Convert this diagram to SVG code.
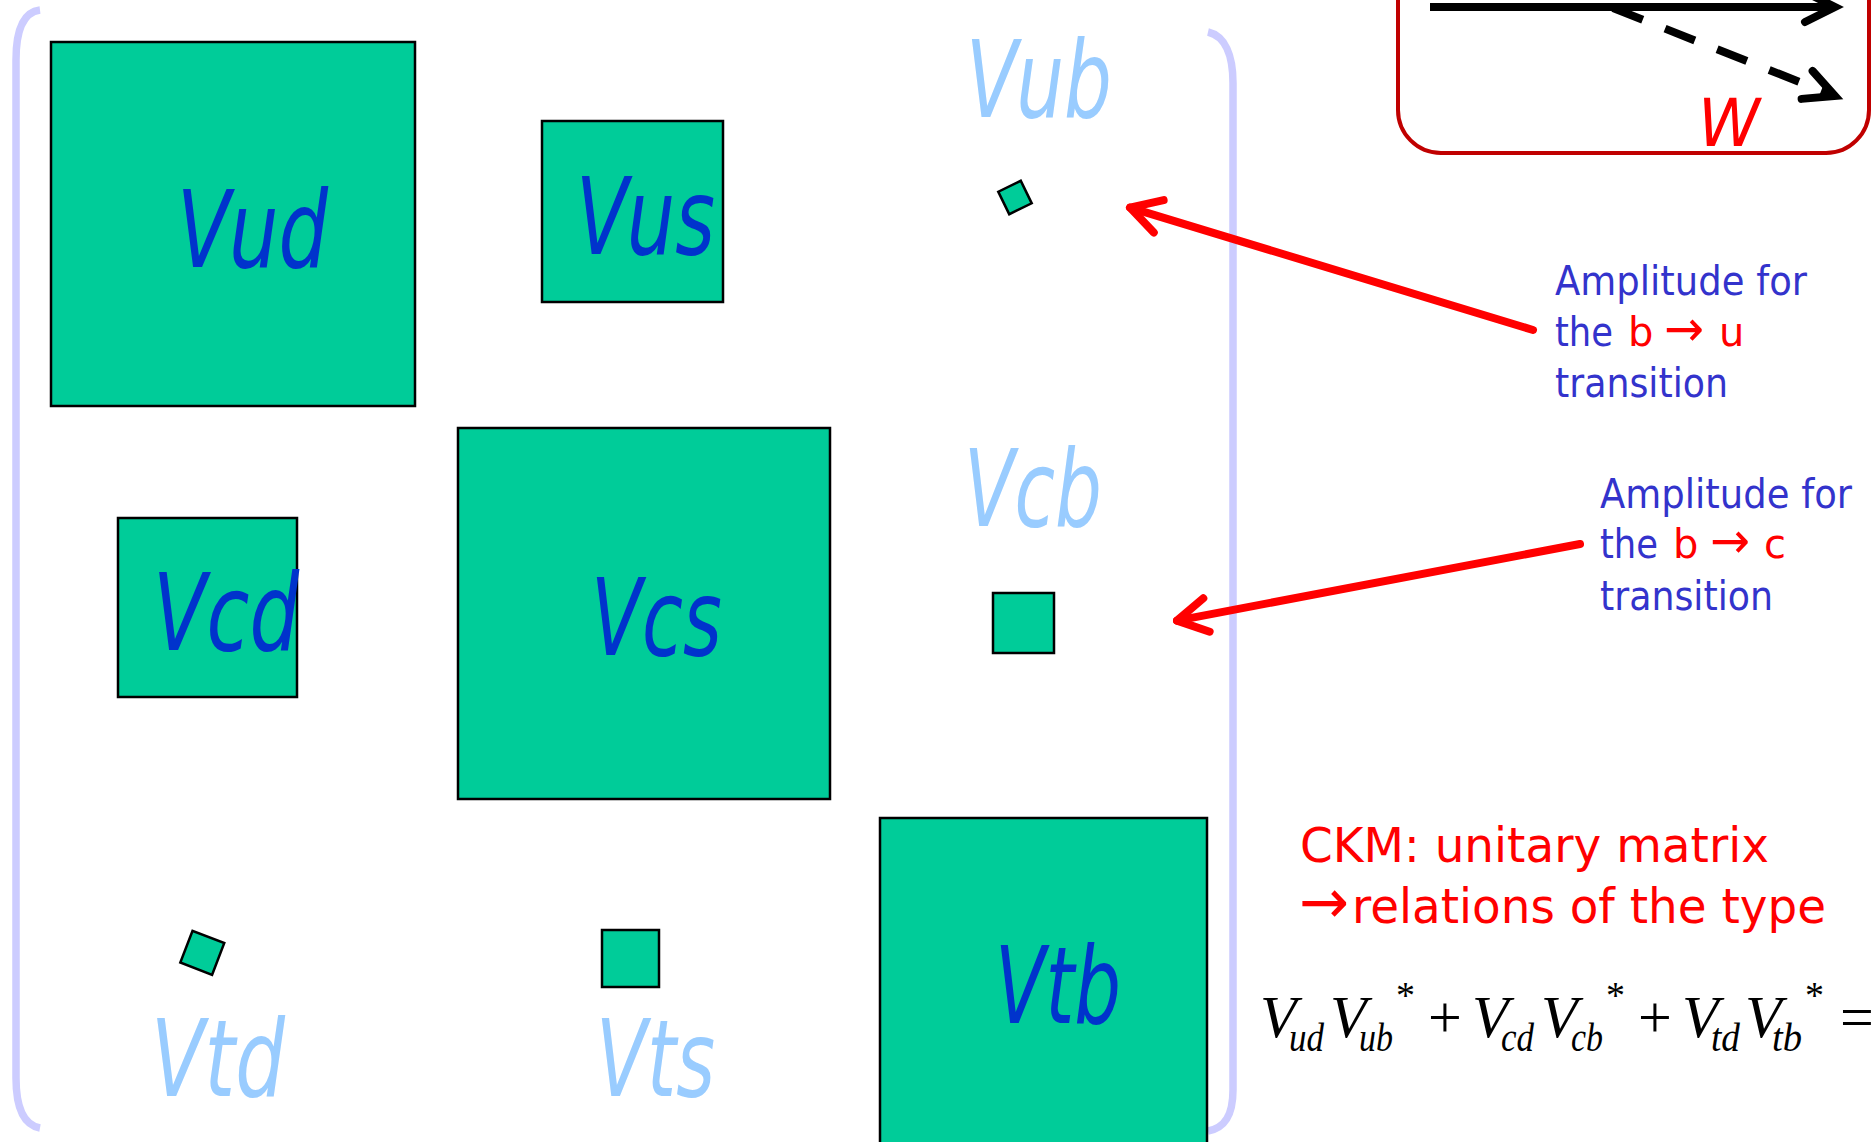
<svg xmlns="http://www.w3.org/2000/svg" width="1875" height="1142" viewBox="0 0 1875 1142">
<style>
.bg{fill:#ffffff}
.br{fill:none;stroke:#CCCCFF;stroke-width:7.5;stroke-linecap:butt}
.cell{fill:#00CC99;stroke:#000000;stroke-width:2.5}
.lab{font-family:"DejaVu Sans","Liberation Sans",sans-serif;font-style:italic;font-size:107px}
.dk{fill:#0033CC}
.lt{fill:#99CCFF}
.ann{font-family:"DejaVu Sans","Liberation Sans",sans-serif;font-size:40px;fill:#3333CC}
.red{fill:#FF0000}
.arr{font-size:50px}
.ckm{font-family:"DejaVu Sans","Liberation Sans",sans-serif;font-size:48px;fill:#FF0000}
.ra{fill:none;stroke:#FF0000;stroke-width:8;stroke-linecap:round;stroke-linejoin:round}
.ba{fill:none;stroke:#000000;stroke-width:8;stroke-linejoin:round}
.eq{font-family:"Liberation Serif","Times New Roman",serif;fill:#000;font-size:60px}
.it{font-style:italic}
.sub{font-style:italic;font-size:40px}
.st{font-size:38px}
</style>
<defs>
<marker id="redHead" markerUnits="userSpaceOnUse" viewBox="-45 -30 55 60" refX="0" refY="0" markerWidth="55" markerHeight="60" orient="auto">
<path d="M -30 -17 L 0 0 L -30 17" fill="none" stroke="#FF0000" stroke-width="8" stroke-linecap="round" stroke-linejoin="round"/>
</marker>
<marker id="blackHead" markerUnits="userSpaceOnUse" viewBox="-45 -30 55 60" refX="0" refY="0" markerWidth="55" markerHeight="60" orient="auto">
<path d="M -30 -15 L 0 0 L -30 15" fill="none" stroke="#000000" stroke-width="8" stroke-linecap="round" stroke-linejoin="miter"/>
</marker>
</defs>
<rect class="bg" x="0" y="0" width="1875" height="1142"/>

<g id="matrix-brackets">
<path class="br" d="M 40 10 C 24 12 16 30 16 60 L 16 1078 C 16 1108 24 1125 40 1128"/>
<path class="br" d="M 1208 32 C 1225 36 1233 55 1233 83 L 1233 1090 C 1233 1115 1225 1128 1208 1131"/>
</g>

<g id="Vud">
<rect class="cell" x="51" y="42" width="364" height="364"/>
<text class="lab dk" x="177" y="267" textLength="151" lengthAdjust="spacingAndGlyphs">Vud</text>
</g>
<g id="Vus">
<rect class="cell" x="542" y="121" width="181" height="181"/>
<text class="lab dk" x="576" y="254" textLength="139" lengthAdjust="spacingAndGlyphs">Vus</text>
</g>
<g id="Vub">
<rect class="cell" x="1002.5" y="185" width="25" height="25" transform="rotate(-26 1015 197.5)"/>
<text class="lab lt" x="966" y="117" textLength="146" lengthAdjust="spacingAndGlyphs">Vub</text>
</g>
<g id="Vcd">
<rect class="cell" x="118" y="518" width="179" height="179"/>
<text class="lab dk" x="153" y="650" textLength="146" lengthAdjust="spacingAndGlyphs">Vcd</text>
</g>
<g id="Vcs">
<rect class="cell" x="458" y="428" width="372" height="371"/>
<text class="lab dk" x="591" y="655" textLength="131" lengthAdjust="spacingAndGlyphs">Vcs</text>
</g>
<g id="Vcb">
<rect class="cell" x="993" y="593" width="61" height="60"/>
<text class="lab lt" x="964" y="526" textLength="138" lengthAdjust="spacingAndGlyphs">Vcb</text>
</g>
<g id="Vtd">
<rect class="cell" x="185.3" y="935.8" width="34" height="34" transform="rotate(21 202.3 952.8)"/>
<text class="lab lt" x="151" y="1096" textLength="134" lengthAdjust="spacingAndGlyphs">Vtd</text>
</g>
<g id="Vts">
<rect class="cell" x="602" y="930" width="57" height="57"/>
<text class="lab lt" x="596" y="1096" textLength="119" lengthAdjust="spacingAndGlyphs">Vts</text>
</g>
<g id="Vtb">
<rect class="cell" x="880" y="818" width="327" height="340"/>
<text class="lab dk" x="995" y="1023" textLength="126" lengthAdjust="spacingAndGlyphs">Vtb</text>
</g>

<g id="W-box">
<rect x="1398" y="-120" width="471" height="273" rx="43" ry="43" fill="none" stroke="#C00000" stroke-width="4"/>
<line class="ba" x1="1430" y1="7" x2="1835" y2="7" marker-end="url(#blackHead)"/>
<line class="ba" x1="1613" y1="8" x2="1835" y2="96" stroke-dasharray="32 24" marker-end="url(#blackHead)"/>
<text x="1698" y="146" font-family="DejaVu Sans, Liberation Sans, sans-serif" font-style="italic" font-size="66" fill="#FF0000" textLength="62" lengthAdjust="spacingAndGlyphs">W</text>
</g>

<g id="note-bu">
<text class="ann" x="1555" y="295" textLength="252" lengthAdjust="spacingAndGlyphs">Amplitude for</text>
<text class="ann" x="1555" y="346"><tspan textLength="58" lengthAdjust="spacingAndGlyphs">the</tspan><tspan class="red" x="1628">b</tspan><tspan class="red arr" x="1664" textLength="40" lengthAdjust="spacingAndGlyphs">→</tspan><tspan class="red" x="1719">u</tspan></text>
<text class="ann" x="1555" y="397" textLength="173" lengthAdjust="spacingAndGlyphs">transition</text>
</g>
<g id="note-bc">
<text class="ann" x="1600" y="508" textLength="252" lengthAdjust="spacingAndGlyphs">Amplitude for</text>
<text class="ann" x="1600" y="558"><tspan textLength="58" lengthAdjust="spacingAndGlyphs">the</tspan><tspan class="red" x="1673">b</tspan><tspan class="red arr" x="1710" textLength="40" lengthAdjust="spacingAndGlyphs">→</tspan><tspan class="red" x="1764">c</tspan></text>
<text class="ann" x="1600" y="610" textLength="173" lengthAdjust="spacingAndGlyphs">transition</text>
</g>

<g id="connectors">
<line class="ra" x1="1533" y1="330" x2="1130" y2="207.6" marker-end="url(#redHead)"/>
<line class="ra" x1="1580" y1="544" x2="1177" y2="620.6" marker-end="url(#redHead)"/>
</g>

<g id="ckm-note">
<text class="ckm" x="1300" y="862" textLength="469" lengthAdjust="spacingAndGlyphs">CKM: unitary matrix</text>
<text class="ckm" y="923"><tspan x="1299" font-size="62" textLength="50" lengthAdjust="spacingAndGlyphs">→</tspan><tspan x="1352" textLength="474" lengthAdjust="spacingAndGlyphs">relations of the type</tspan></text>
</g>

<g id="equation">
<text class="eq"><tspan class="it" x="1260" y="1037">V</tspan><tspan class="sub" x="1289" y="1051" textLength="35" lengthAdjust="spacingAndGlyphs">ud</tspan><tspan class="it" x="1330" y="1037">V</tspan><tspan class="sub" x="1359" y="1051" textLength="34" lengthAdjust="spacingAndGlyphs">ub</tspan><tspan class="st" x="1396" y="1008">*</tspan><tspan x="1428" y="1037">+</tspan><tspan class="it" x="1472" y="1037">V</tspan><tspan class="sub" x="1501" y="1051" textLength="33" lengthAdjust="spacingAndGlyphs">cd</tspan><tspan class="it" x="1541" y="1037">V</tspan><tspan class="sub" x="1571" y="1051" textLength="32" lengthAdjust="spacingAndGlyphs">cb</tspan><tspan class="st" x="1606" y="1008">*</tspan><tspan x="1638" y="1037">+</tspan><tspan class="it" x="1682" y="1037">V</tspan><tspan class="sub" x="1711" y="1051" textLength="29" lengthAdjust="spacingAndGlyphs">td</tspan><tspan class="it" x="1745" y="1037">V</tspan><tspan class="sub" x="1772" y="1051" textLength="30" lengthAdjust="spacingAndGlyphs">tb</tspan><tspan class="st" x="1805" y="1008">*</tspan><tspan x="1840" y="1037">=</tspan></text>
</g>
</svg>
